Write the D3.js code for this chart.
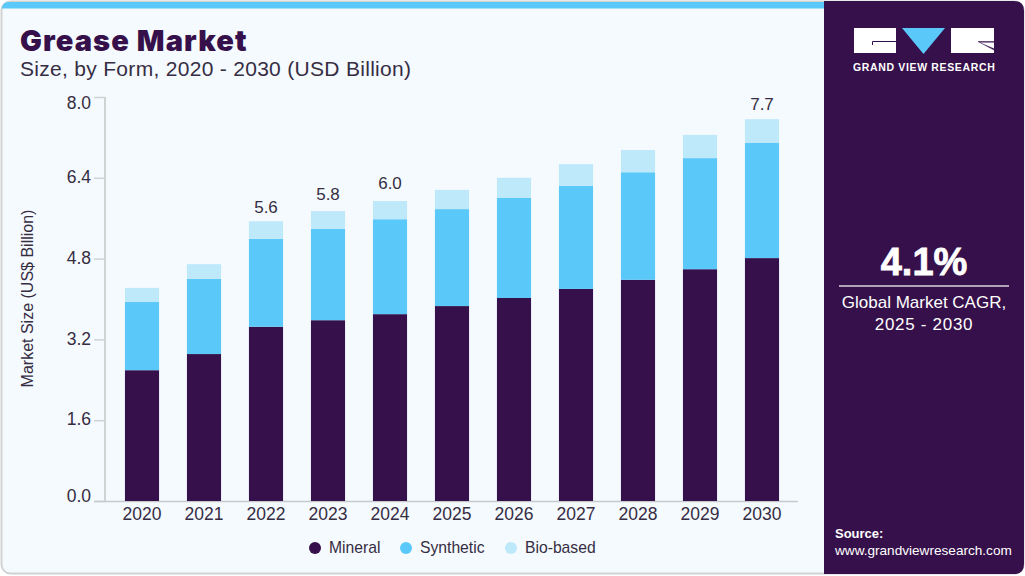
<!DOCTYPE html>
<html>
<head>
<meta charset="utf-8">
<script src="https://cdn.jsdelivr.net/npm/d3@7"></script>
<style>
html, body { margin: 0; padding: 0; background: #fff; }
svg { display: block; }
text { font-family: "Liberation Sans", sans-serif; fill: #362d43; }
</style>
</head>
<body>
<svg id="chart" width="1025" height="576"></svg>
<script>
// Data
const years = ["2020", "2021", "2022", "2023", "2024", "2025", "2026", "2027", "2028", "2029", "2030"];
const mineral = [2.59, 2.91, 3.45, 3.58, 3.70, 3.86, 4.02, 4.20, 4.38, 4.59, 4.81];
const synthetic = [1.35, 1.49, 1.74, 1.81, 1.88, 1.92, 1.98, 2.04, 2.13, 2.20, 2.28];
const bioBased = [0.28, 0.29, 0.35, 0.35, 0.36, 0.38, 0.40, 0.43, 0.44, 0.46, 0.47];
const totalLabels = ["", "", "5.6", "5.8", "6.0", "", "", "", "", "", "7.7"];
const yTicks = [0, 1.6, 3.2, 4.8, 6.4, 8.0];
const seriesNames = ["Mineral", "Synthetic", "Bio-based"];
const seriesColors = ["#36104a", "#5bc8fa", "#bde9fb"];

const svg = d3.select("#chart");

// Card and side panel
svg.append("rect").attr("x", 1.5).attr("y", 1.5).attr("width", 1022).attr("height", 572).attr("rx", 9)
    .attr("fill", "#f4fafd").attr("stroke", "#cfd3d4").attr("stroke-width", 2);
svg.append("path").attr("d", "M2,9 Q2,2 9,2 L824,2 L824,8.5 L2,8.5 Z").attr("fill", "#5bc8fa");
svg.append("path").attr("d", "M824,1 L1014,1 Q1024,1 1024,11 L1024,564 Q1024,574 1014,574 L824,574 Z").attr("fill", "#36104a");

// Titles
svg.append("text").attr("x", 20).attr("y", 50.5).attr("font-size", 29).attr("font-weight", 900)
    .style("font-family", "Inter, sans-serif").style("letter-spacing", "1.1px").style("fill", "#36104a").text("Grease Market");
svg.append("text").attr("x", 20).attr("y", 76).attr("font-size", 21).style("letter-spacing", "0.3px")
    .text("Size, by Form, 2020 - 2030 (USD Billion)");

// Scales
const x = d3.scaleBand().domain(years).range([111, 793]).paddingInner(0.45).paddingOuter(0.225);
const y = d3.scaleLinear().domain([0, 8]).range([501, 97]);

// Axes
const yAxis = svg.append("g").attr("transform", "translate(105,0)")
    .call(d3.axisLeft(y).tickValues(yTicks).tickFormat(d3.format(".1f")).tickSize(11).tickPadding(3));
yAxis.selectAll("path").attr("stroke", "#cfd3d4").attr("stroke-width", 2).attr("d", "M0,97 L0,501");
yAxis.selectAll("line").attr("stroke", "#cfd3d4").attr("stroke-width", 1.5);
// end labels sit inside the axis range in the original
yAxis.selectAll("text").attr("font-size", 17.5)
    .attr("y", d => d === 8 ? 6 : d === 0 ? -5 : -1);

const xAxis = svg.append("g").attr("transform", "translate(0,501.5)")
    .call(d3.axisBottom(x).tickSize(0).tickPadding(6));
xAxis.selectAll("path").attr("stroke", "#c6cacc").attr("stroke-width", 1.5).attr("d", "M94,0 L798,0");
xAxis.selectAll("text").attr("font-size", 17.5);

svg.append("text").attr("transform", "translate(33,298.5) rotate(-90)").attr("text-anchor", "middle")
    .attr("font-size", 16).text("Market Size (US$ Billion)");

// Stacked bars
const rows = years.map((year, i) => ({ year, Mineral: mineral[i], Synthetic: synthetic[i], "Bio-based": bioBased[i] }));
const stacked = d3.stack().keys(seriesNames)(rows);

svg.append("g").selectAll("g").data(stacked).join("g")
    .attr("fill", (d, i) => seriesColors[i])
    .selectAll("rect").data(d => d).join("rect")
    .attr("x", d => x(d.data.year))
    .attr("y", d => y(d[1]))
    .attr("width", x.bandwidth())
    .attr("height", d => y(d[0]) - y(d[1]));

// Total labels, gap above the bar varies a little in the original
const labelGap = { "5.6": 8, "5.8": 11, "6.0": 12, "7.7": 9 };
svg.append("g").selectAll("text").data(stacked[2]).join("text")
    .attr("x", d => x(d.data.year) + x.bandwidth() / 2)
    .attr("y", (d, i) => totalLabels[i] ? y(d[1]) - labelGap[totalLabels[i]] : 0)
    .attr("text-anchor", "middle").attr("font-size", 17)
    .text((d, i) => totalLabels[i]);

// Legend
const legendX = [315, 406, 511];
const legend = svg.append("g").selectAll("g").data(seriesNames).join("g")
    .attr("transform", (d, i) => `translate(${legendX[i]},548)`);
legend.append("circle").attr("r", 6).attr("fill", (d, i) => seriesColors[i]);
legend.append("text").attr("x", 14).attr("y", 5).attr("font-size", 15.7).text(d => d);

// Logo
const logo = svg.append("g");
logo.append("rect").attr("x", 854).attr("y", 28).attr("width", 42).attr("height", 25).attr("fill", "#fff");
logo.append("path").attr("d", "M872.5,45 L872.5,41.5 L896,41.5").attr("fill", "none").attr("stroke", "#36104a").attr("stroke-width", 1);
logo.append("path").attr("d", "M902,28 L945,28 L923.5,54 Z").attr("fill", "#5bc8fa");
logo.append("rect").attr("x", 951).attr("y", 28).attr("width", 43).attr("height", 25).attr("fill", "#fff");
logo.append("path").attr("d", "M994,50 L978,41.5 L994,41.5").attr("fill", "#36104a").attr("stroke", "#36104a").attr("stroke-width", 0.5);
logo.append("path").attr("d", "M980,42.5 L994,42.5 L994,48.5 Z").attr("fill", "#fff");
svg.append("text").attr("x", 853).attr("y", 71).attr("font-size", 10.5).attr("font-weight", 700)
    .style("fill", "#fff").style("letter-spacing", "0.65px").text("GRAND VIEW RESEARCH");

// CAGR block
svg.append("text").attr("x", 924).attr("y", 275).attr("text-anchor", "middle").attr("font-size", 38).attr("font-weight", 700)
    .attr("stroke", "#fff").attr("stroke-width", 0.8).style("fill", "#fff").text("4.1%");
svg.append("line").attr("x1", 839).attr("x2", 1009).attr("y1", 286).attr("y2", 286).attr("stroke", "#d9d3dd").attr("stroke-width", 1.5);
svg.append("text").attr("x", 924).attr("y", 308).attr("text-anchor", "middle").attr("font-size", 17)
    .style("fill", "#fff").text("Global Market CAGR,");
svg.append("text").attr("x", 924).attr("y", 330).attr("text-anchor", "middle").attr("font-size", 17).style("letter-spacing", "0.7px")
    .style("fill", "#fff").text("2025 - 2030");

// Source
svg.append("text").attr("x", 835).attr("y", 538).attr("font-size", 13).attr("font-weight", 700)
    .style("fill", "#fff").text("Source:");
svg.append("text").attr("x", 835).attr("y", 555).attr("font-size", 13.6)
    .style("fill", "#fff").text("www.grandviewresearch.com");
</script>
</body>
</html>
